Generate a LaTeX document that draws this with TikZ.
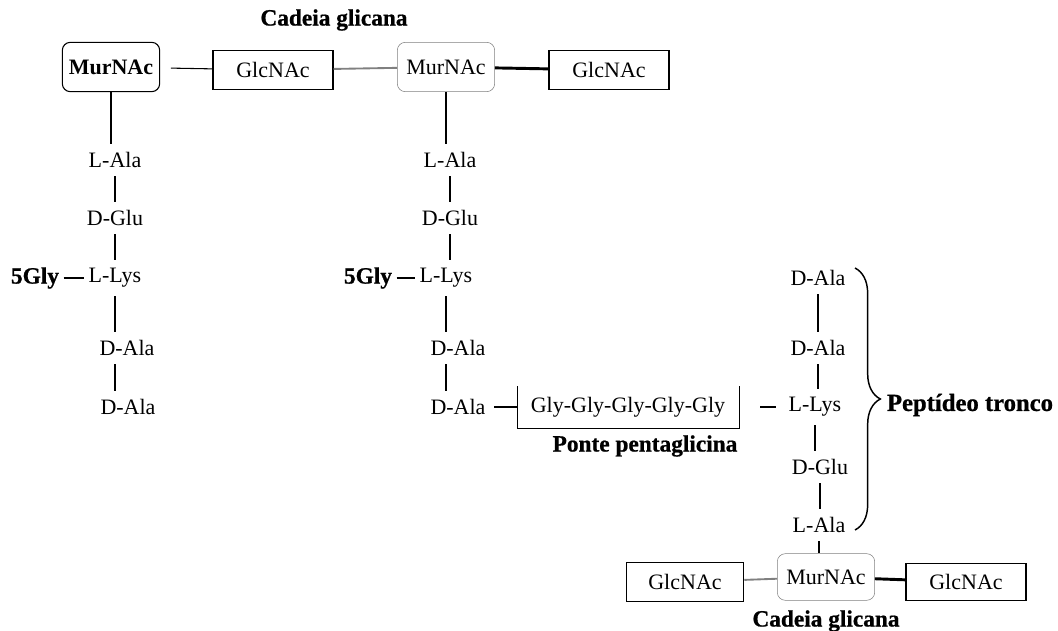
\documentclass[tikz,border=0pt]{standalone}
\usepackage{fontspec}
\setmainfont{Liberation Serif}
\usetikzlibrary{decorations.pathreplacing}

\begin{document}
\begin{tikzpicture}[x=0.75pt,y=-0.75pt,
  font=\fontsize{16.5}{20}\selectfont,
  mur/.style={draw, rounded corners=6pt, minimum width=73pt, minimum height=37pt},
  glc/.style={draw, line width=0.9pt, minimum width=90pt, minimum height=29pt},
  lbl/.style={font=\fontsize{17.5}{21}\selectfont\bfseries\addfontfeature{FakeBold=0.8}},
  bond/.style={line width=0.9pt, shorten <=3pt, shorten >=3pt}]
\useasboundingbox (0,0) rectangle (1058,631);

% cadeia glicana de cima
\path (334,20) node[lbl] (cad1) {Cadeia glicana};
\path (111,67) node[mur, line width=0.8pt] (mur1) {\textbf{MurNAc}};
\path (273,70) node[glc] (glc1) {GlcNAc};
\path (446,67) node[mur, draw=gray] (mur2) {MurNAc};
\path (609,70) node[glc] (glc2) {GlcNAc};
\draw[line width=0.8pt, shorten <=8pt] (mur1) -- (glc1);
\draw[gray, line width=1.4pt] (glc1) -- (mur2);
\draw[line width=2.2pt] (mur2) -- (glc2);

% primeira cadeia peptidica
\path (115,160) node (la1) {L-Ala};
\path (115,218) node (dg1) {D-Glu};
\path (115,278) node (ll1) {L-Lys};
\path (127,348) node (da1) {D-Ala};
\path (128,407) node (db1) {D-Ala};
\path (35,278) node[lbl] (g1) {5Gly};
\draw[bond, shorten <=0pt] (mur1.south) -- (mur1.south |- la1.north);
\draw[bond] (la1.south) -- (la1.south |- dg1.north);
\draw[bond] (dg1.south) -- (dg1.south |- ll1.north);
\draw[bond] (ll1.south) -- (ll1.south |- da1.north);
\draw[bond] (ll1.south |- da1.south) -- (ll1.south |- db1.north);
\draw[line width=0.9pt] (g1) -- (ll1);

% segunda cadeia peptidica
\path (450,160) node (la2) {L-Ala};
\path (450,218) node (dg2) {D-Glu};
\path (446,278) node (ll2) {L-Lys};
\path (458,348) node (da2) {D-Ala};
\path (458,407) node (db2) {D-Ala};
\path (368,278) node[lbl] (g2) {5Gly};
\draw[bond, shorten <=0pt] (mur2.south) -- (mur2.south |- la2.north);
\draw[bond] (la2.south) -- (la2.south |- dg2.north);
\draw[bond] (dg2.south) -- (dg2.south |- ll2.north);
\draw[bond] (ll2.south) -- (ll2.south |- da2.north);
\draw[bond] (ll2.south |- da2.south) -- (ll2.south |- db2.north);
\draw[line width=0.9pt] (g2) -- (ll2);

% ponte
\path (628,407) node[minimum width=166pt, minimum height=31pt] (ponte) {Gly-Gly-Gly-Gly-Gly};
\draw[line width=0.6pt] (ponte.north west) -- (ponte.south west) -- (ponte.south east) -- (ponte.north east);
\path (645,446) node[lbl] (ptlbl) {Ponte pentaglicina};
\draw[line width=0.8pt, shorten <=3pt] (db2) -- (ponte);

% peptideo tronco
\path (818,278) node (dc3) {D-Ala};
\path (818,348) node (dd3) {D-Ala};
\path (815,407) node (ll3) {L-Lys};
\path (820,467) node (dg3) {D-Glu};
\path (819,525) node (la3) {L-Ala};
\draw[line width=0.9pt, shorten <=16pt, shorten >=6pt] (ponte) -- (ll3);
\draw[bond] (dc3.south) -- (dc3.south |- dd3.north);
\draw[bond] (dd3.south) -- (dd3.south |- ll3.north);
\draw[bond] (ll3.south) -- (ll3.south |- dg3.north);
\draw[bond] (dg3.south) -- (dg3.south |- la3.north);
\coordinate (bt) at (855,268);
\coordinate (bb) at (855,530);
\draw[line width=1.1pt, decorate, decoration={brace, amplitude=19pt}] (bt) -- (bb);
\path (970,405) node[lbl, font=\fontsize{18.5}{22}\selectfont\bfseries\addfontfeature{FakeBold=0.8}] (tronco) {Peptídeo tronco};

% cadeia glicana de baixo
\path (826,577) node[mur, draw=gray, minimum height=35pt] (mur3) {MurNAc};
\path (685,582) node[glc, minimum width=88pt, minimum height=29pt] (glc3) {GlcNAc};
\path (966,582) node[glc, minimum width=90pt, minimum height=28pt] (glc4) {GlcNAc};
\draw[bond, shorten >=0pt] (la3.south) -- (la3.south |- mur3.north);
\draw[gray, line width=1.4pt] (glc3) -- (mur3);
\draw[line width=2.2pt] (mur3) -- (glc4);
\path (826,621) node[lbl] (cad2) {Cadeia glicana};
\end{tikzpicture}
\end{document}
